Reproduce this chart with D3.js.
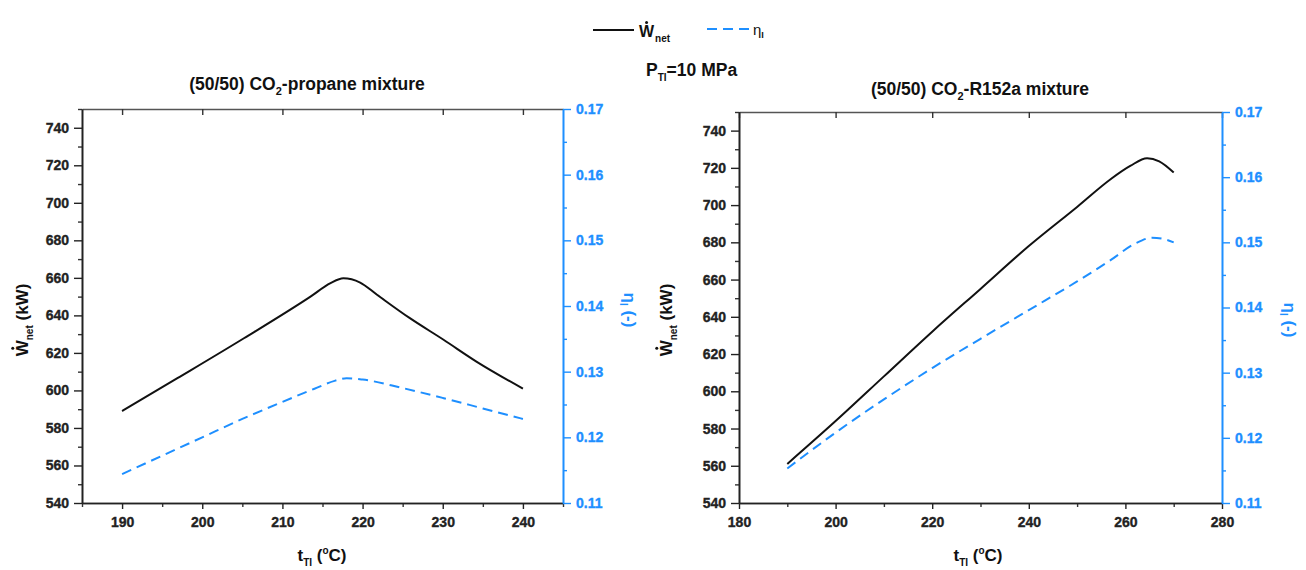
<!DOCTYPE html>
<html><head><meta charset="utf-8">
<script src="https://cdn.jsdelivr.net/npm/d3@7"></script>
<style>
body{margin:0;background:#fff}
svg{display:block}
text{font-family:"Liberation Sans",Arial,"DejaVu Sans",sans-serif;font-weight:bold}
</style>
</head><body>
<svg id="c" width="1306" height="570"></svg>
<script>
// ---- data ----
const propaneT   = [190, 196.9, 205.2, 213.5, 216.0, 217.6, 219.7, 221.8, 225.9, 230.1, 234.2, 240];
const propaneW   = [589, 606.5, 627.8, 650, 657.2, 659.8, 657.5, 651, 638.5, 627, 615.4, 601];
const propaneEtaT= [190, 195, 200, 205, 210, 214, 216.5, 218, 220, 225, 230, 235, 240];
const propaneEta = [0.1144, 0.1172, 0.1200, 0.1228, 0.1254, 0.1274, 0.1286, 0.1290, 0.1288, 0.1275, 0.1260, 0.1244, 0.1228];

const r152aT     = [190, 200, 210, 220, 230, 240, 250, 257, 261, 264.5, 267, 270];
const r152aW     = [561, 584, 608, 632, 655, 678, 699, 714, 721, 725.2, 723.5, 717.5];
const r152aEtaT  = [190, 200, 210, 220, 230, 240, 250, 257, 262, 265.5, 268, 270];
const r152aEta   = [0.1153, 0.1208, 0.1259, 0.1307, 0.1352, 0.1396, 0.1440, 0.1473, 0.1498, 0.1507, 0.1505, 0.1500];

const wTicks   = [540, 560, 580, 600, 620, 640, 660, 680, 700, 720, 740];
const wMinor   = [550, 570, 590, 610, 630, 650, 670, 690, 710, 730, 750];
const etaTicks = [0.11, 0.12, 0.13, 0.14, 0.15, 0.16, 0.17];
const etaMinor = [0.115, 0.125, 0.135, 0.145, 0.155, 0.165];
const xTicksLeft  = [190, 200, 210, 220, 230, 240];
const xMinorLeft  = [185, 195, 205, 215, 225, 235, 245];
const xTicksRight = [180, 200, 220, 240, 260, 280];
const xMinorRight = [190, 210, 230, 250, 270];

const BLUE = "#1e8fff";
const svg = d3.select("#c");

function styleAxis(sel, color){
  sel.attr("font-family",null).attr("font-size",null);
  sel.select(".domain").attr("stroke", color).attr("stroke-width", 1.6);
  sel.selectAll(".tick line").attr("stroke", color).attr("stroke-width", 1.4);
  sel.selectAll(".tick text").attr("fill", color).attr("stroke", color).attr("stroke-width", 0.35)
     .attr("font-size","14px").attr("font-weight","bold")
     .attr("font-family",'"Liberation Sans",Arial,sans-serif');
}

// put a dot over the first character of a text element (for W-dot)
function addDot(parent, textEl, fs){
  const a = textEl.node().getStartPositionOfChar(0);
  const b = textEl.node().getEndPositionOfChar(0);
  parent.append("circle").attr("cx",(a.x+b.x)/2).attr("cy",a.y - 0.72*fs - 3)
    .attr("r", 1.5).attr("fill","#111");
}

function panel(o){
  const x  = d3.scaleLinear().domain(o.xDomain).range([o.x0, o.x1]);
  const y  = d3.scaleLinear().domain([540, 750]).range([o.y1, o.y0]);
  const y2 = d3.scaleLinear().domain([0.11, 0.17]).range([o.y1, o.y0]);
  const g = svg.append("g");

  // top frame + inward ticks
  const top = g.append("g").attr("transform",`translate(0,${o.y0})`)
    .call(d3.axisTop(x).tickValues(o.xMajor).tickSize(-6).tickSizeOuter(0).tickFormat(""));
  top.select(".domain").attr("stroke","#555").attr("stroke-width",1.6);
  top.selectAll(".tick line").attr("stroke","#333").attr("stroke-width",1.4);

  // bottom axis
  const bm = g.append("g").attr("transform",`translate(0,${o.y1})`)
    .call(d3.axisBottom(x).tickValues(o.xMinor).tickSize(4).tickSizeOuter(0).tickFormat(""));
  styleAxis(bm, "#333");
  const bx = g.append("g").attr("transform",`translate(0,${o.y1})`)
    .call(d3.axisBottom(x).tickValues(o.xMajor).tickSize(6).tickPadding(8).tickSizeOuter(0).tickFormat(d3.format("d")));
  styleAxis(bx, "#222");

  // left axis
  const lm = g.append("g").attr("transform",`translate(${o.x0},0)`)
    .call(d3.axisLeft(y).tickValues(wMinor).tickSize(4).tickSizeOuter(0).tickFormat(""));
  styleAxis(lm, "#333");
  const ly = g.append("g").attr("transform",`translate(${o.x0},0)`)
    .call(d3.axisLeft(y).tickValues(wTicks).tickSize(8).tickPadding(5).tickSizeOuter(0).tickFormat(d3.format("d")));
  styleAxis(ly, "#222");

  // right axis (blue)
  const rm = g.append("g").attr("transform",`translate(${o.x1},0)`)
    .call(d3.axisRight(y2).tickValues(etaMinor).tickSize(4).tickSizeOuter(0).tickFormat(""));
  styleAxis(rm, BLUE);
  const ry = g.append("g").attr("transform",`translate(${o.x1},0)`)
    .call(d3.axisRight(y2).tickValues(etaTicks).tickSize(8).tickPadding(5).tickSizeOuter(0).tickFormat(d3.format(".2f")));
  styleAxis(ry, BLUE);

  // lines
  const wData = o.t.map((t,i)=>[t,o.w[i]]);
  const eData = o.et.map((t,i)=>[t,o.eta[i]]);
  g.append("path").datum(wData).attr("fill","none").attr("stroke","#111").attr("stroke-width",2)
    .attr("d", d3.line().x(d=>x(d[0])).y(d=>y(d[1])).curve(d3.curveMonotoneX));
  g.append("path").datum(eData).attr("fill","none").attr("stroke",BLUE).attr("stroke-width",2)
    .attr("stroke-dasharray","10,6")
    .attr("d", d3.line().x(d=>x(d[0])).y(d=>y2(d[1])).curve(d3.curveMonotoneX));

  // title
  const tt = g.append("text").attr("x",o.titleX).attr("y",o.titleY).attr("text-anchor","middle")
    .style("font-size","17.5px").attr("fill","#111");
  tt.append("tspan").text("(50/50) CO");
  tt.append("tspan").text("2").style("font-size","11px").attr("dy",5);
  tt.append("tspan").text(o.titleRest).attr("dy",-5);

  // y label left
  const ylg = g.append("g").attr("transform",`translate(${o.ylX},${o.ylY}) rotate(-90)`);
  const yl = ylg.append("text").attr("text-anchor","middle").style("font-size","17px").attr("fill","#111");
  yl.append("tspan").text("W");
  yl.append("tspan").text("net").style("font-size","10px").attr("dy",5);
  yl.append("tspan").text(" (kW)").attr("dy",-5);
  addDot(ylg, yl, 17);

  // y label right
  const yr = g.append("text").attr("transform",`translate(${o.yrX},${o.yrY}) rotate(90)`)
    .attr("text-anchor","middle").style("font-size","17px").attr("fill",BLUE);
  yr.append("tspan").text("\u03B7");
  yr.append("tspan").text("I").style("font-size","10px").attr("dy",4);
  yr.append("tspan").text(" (-)").attr("dy",-4);

  // x label
  const xl = g.append("text").attr("x",o.xlX).attr("y",o.xlY).attr("text-anchor","middle")
    .style("font-size","17px").attr("fill","#111");
  xl.append("tspan").text("t");
  xl.append("tspan").text("TI").style("font-size","10px").attr("dy",5);
  xl.append("tspan").text(" (").attr("dy",-5);
  xl.append("tspan").text("o").style("font-size","10px").attr("dy",-7);
  xl.append("tspan").text("C)").attr("dy",7);
}

panel({x0:82, x1:563, y0:109, y1:503, xDomain:[185,245], xMajor:xTicksLeft, xMinor:xMinorLeft,
  t:propaneT, w:propaneW, et:propaneEtaT, eta:propaneEta,
  titleX:307, titleY:90, titleRest:"-propane mixture",
  ylX:28, ylY:320, yrX:624, yrY:310, xlX:322, xlY:561});

panel({x0:739, x1:1222, y0:112, y1:503, xDomain:[180,280], xMajor:xTicksRight, xMinor:xMinorRight,
  t:r152aT, w:r152aW, et:r152aEtaT, eta:r152aEta,
  titleX:980, titleY:95, titleRest:"-R152a mixture",
  ylX:672, ylY:320, yrX:1284, yrY:320, xlX:978, xlY:561});

// legend
const lg = svg.append("g");
lg.append("line").attr("x1",593).attr("x2",634).attr("y1",30).attr("y2",30).attr("stroke","#111").attr("stroke-width",2);
const lt = lg.append("text").attr("x",639).attr("y",37).style("font-size","16px").attr("fill","#111");
lt.append("tspan").text("W");
lt.append("tspan").text("net").style("font-size","10px").attr("dy",5).attr("dx",1);
addDot(lg, lt, 16);
lg.append("line").attr("x1",707).attr("x2",749).attr("y1",29).attr("y2",29).attr("stroke",BLUE).attr("stroke-width",2).attr("stroke-dasharray","10,6");
const le = lg.append("text").attr("x",753).attr("y",35).style("font-size","15px").attr("fill","#111");
le.append("tspan").text("\u03B7").style("font-weight","normal");
le.append("tspan").text("I").style("font-size","9px").attr("dy",3);

const pt = svg.append("text").attr("x",646).attr("y",76).style("font-size","17.5px").attr("fill","#111");
pt.append("tspan").text("P");
pt.append("tspan").text("TI").style("font-size","10px").attr("dy",5);
pt.append("tspan").text("=10 MPa").attr("dy",-5);
</script>
</body></html>
